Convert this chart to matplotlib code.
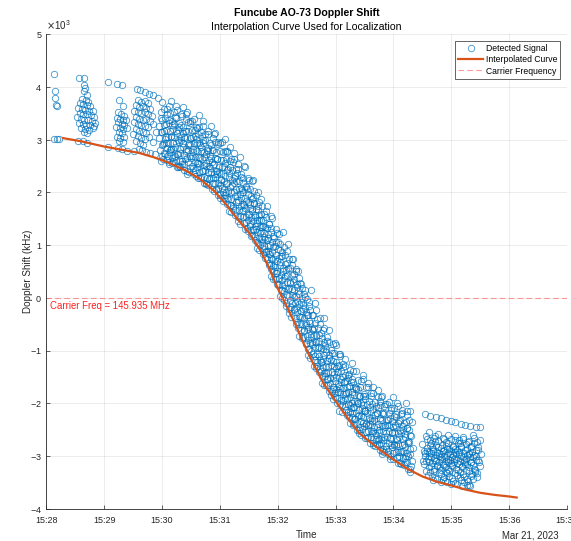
import numpy as np
import matplotlib
matplotlib.use("Agg")
import matplotlib.pyplot as plt
import matplotlib.dates as mdates
from matplotlib.ticker import ScalarFormatter, MultipleLocator
from datetime import datetime

plt.rcParams["font.family"] = ["Liberation Sans", "DejaVu Sans"]
plt.rcParams["axes.unicode_minus"] = False

# time is in minutes after 15:28, shift in kHz (plotted in Hz with x10^3)
start = datetime(2023, 3, 21, 15, 28)

# early passes, read point by point
early_t = [0.14, 0.15, 0.15, 0.16, 0.19, 0.14, 0.18, 0.22,
           0.57, 0.65, 0.66, 0.67, 0.66, 0.70, 0.62, 0.68, 0.72, 0.58, 0.64, 0.70,
           0.76, 0.55, 0.61, 0.67, 0.73, 0.80, 0.58, 0.64, 0.70, 0.77, 0.83, 0.53,
           0.60, 0.66, 0.72, 0.79, 0.56, 0.63, 0.69, 0.75, 0.82, 0.60, 0.67, 0.73,
           0.80, 0.65, 0.71, 0.84, 0.55, 0.63, 0.71,
           1.07, 1.23, 1.31, 1.25, 1.33, 1.24, 1.29, 1.34, 1.22, 1.27, 1.32, 1.37,
           1.24, 1.30, 1.35, 1.21, 1.27, 1.33, 1.39, 1.25, 1.31, 1.22, 1.28, 1.34,
           1.26, 1.32, 1.07, 1.24, 1.31, 1.40,
           1.56, 1.62, 1.70, 1.78, 1.85, 1.93, 1.58, 1.64, 1.70, 1.76, 1.55, 1.61,
           1.67, 1.73, 1.79, 1.52, 1.58, 1.64, 1.70, 1.76, 1.82, 1.55, 1.61, 1.67,
           1.73, 1.79, 1.52, 1.58, 1.64, 1.70, 1.76, 1.84, 1.55, 1.61, 1.67, 1.73,
           1.50, 1.58, 1.64, 1.70, 1.77, 1.55, 1.62, 1.68, 1.60, 1.66, 1.72, 1.80,
           1.88, 1.52, 1.85, 1.90]
early_f = [4.25, 3.93, 3.80, 3.66, 3.63, 3.02, 3.02, 3.02,
           4.18, 4.18, 4.04, 3.98, 3.92, 3.85, 3.78, 3.76, 3.72, 3.70, 3.68, 3.66,
           3.63, 3.60, 3.58, 3.57, 3.55, 3.55, 3.50, 3.49, 3.48, 3.46, 3.44, 3.44,
           3.40, 3.38, 3.37, 3.36, 3.31, 3.30, 3.28, 3.27, 3.26, 3.22, 3.20, 3.18,
           3.22, 3.14, 3.12, 3.31, 2.97, 2.97, 2.94,
           4.10, 4.05, 4.03, 3.75, 3.63, 3.52, 3.48, 3.45, 3.42, 3.40, 3.38, 3.37,
           3.33, 3.30, 3.28, 3.25, 3.22, 3.20, 3.22, 3.15, 3.12, 3.06, 3.04, 3.05,
           2.97, 2.95, 2.86, 2.84, 2.82, 2.79,
           3.96, 3.95, 3.91, 3.87, 3.85, 3.80, 3.75, 3.72, 3.74, 3.70, 3.65, 3.62,
           3.64, 3.60, 3.58, 3.55, 3.52, 3.50, 3.53, 3.48, 3.45, 3.43, 3.40, 3.38,
           3.40, 3.35, 3.33, 3.30, 3.28, 3.26, 3.24, 3.30, 3.20, 3.17, 3.15, 3.13,
           3.10, 3.07, 3.04, 3.02, 3.05, 2.97, 2.93, 2.90, 2.83, 2.80, 2.77, 2.74,
           2.72, 2.79, 2.95, 3.15]

# main pass, one column of detections per time step
band_t = [1.98, 2.06, 2.14, 2.22, 2.30, 2.38, 2.46, 2.54, 2.62, 2.70, 2.78,
          2.86, 2.94, 3.02, 3.10, 3.18, 3.26, 3.34, 3.42, 3.50, 3.58, 3.66,
          3.74, 3.82, 3.90, 3.98, 4.06, 4.14, 4.22, 4.30, 4.38, 4.46, 4.54,
          4.62, 4.70, 4.78, 4.86, 4.94, 5.02, 5.10, 5.18, 5.26, 5.34, 5.42,
          5.50, 5.58, 5.66, 5.74, 5.82, 5.90, 5.98, 6.06, 6.14, 6.22, 6.30]
band_f = [
    [2.59, 2.70, 2.80, 2.92, 3.03, 3.15, 3.26, 3.38, 3.52, 3.72],
    [2.61, 2.72, 2.84, 2.94, 3.06, 3.17, 3.29, 3.42, 3.59],
    [2.54, 2.65, 2.76, 2.82, 2.93, 3.05, 3.16, 3.28, 3.37, 3.51, 3.73],
    [2.48, 2.59, 2.70, 2.82, 2.93, 3.05, 3.16, 3.29, 3.43, 3.64],
    [2.49, 2.60, 2.72, 2.83, 2.95, 3.06, 3.18, 3.32, 3.49],
    [2.42, 2.53, 2.64, 2.71, 2.82, 2.94, 3.05, 3.17, 3.25, 3.40, 3.62],
    [2.35, 2.46, 2.57, 2.69, 2.81, 2.93, 3.04, 3.16, 3.31, 3.52],
    [2.35, 2.46, 2.58, 2.69, 2.82, 2.93, 3.05, 3.19, 3.36],
    [2.27, 2.38, 2.49, 2.56, 2.67, 2.79, 2.90, 3.02, 3.10, 3.25, 3.47],
    [2.18, 2.29, 2.40, 2.52, 2.64, 2.76, 2.87, 2.99, 3.14, 3.35],
    [2.16, 2.27, 2.39, 2.50, 2.62, 2.73, 2.85, 2.99, 3.16],
    [2.06, 2.17, 2.28, 2.35, 2.46, 2.58, 2.69, 2.81, 2.89, 3.04, 3.26],
    [1.95, 2.06, 2.17, 2.30, 2.41, 2.53, 2.64, 2.77, 2.92, 3.13],
    [1.90, 2.01, 2.14, 2.25, 2.38, 2.49, 2.62, 2.76, 2.93],
    [1.78, 1.89, 2.00, 2.07, 2.18, 2.31, 2.42, 2.55, 2.64, 2.79, 3.02],
    [1.64, 1.76, 1.87, 2.00, 2.11, 2.24, 2.36, 2.49, 2.64, 2.86],
    [1.58, 1.70, 1.82, 1.94, 2.07, 2.18, 2.31, 2.45, 2.63],
    [1.45, 1.56, 1.67, 1.74, 1.85, 1.97, 2.09, 2.21, 2.30, 2.45, 2.68],
    [1.31, 1.42, 1.53, 1.66, 1.77, 1.89, 2.00, 2.13, 2.28, 2.49],
    [1.26, 1.37, 1.48, 1.59, 1.71, 1.82, 1.94, 2.07, 2.23],
    [1.09, 1.20, 1.30, 1.36, 1.46, 1.58, 1.69, 1.80, 1.88, 2.02, 2.23],
    [0.94, 1.04, 1.14, 1.25, 1.35, 1.47, 1.57, 1.68, 1.81, 2.00],
    [0.83, 0.93, 1.05, 1.15, 1.26, 1.36, 1.47, 1.59, 1.75],
    [0.63, 0.73, 0.84, 0.89, 0.99, 1.11, 1.21, 1.32, 1.40, 1.54, 1.74],
    [0.41, 0.51, 0.62, 0.74, 0.84, 0.96, 1.06, 1.18, 1.32, 1.51],
    [0.25, 0.36, 0.48, 0.58, 0.70, 0.81, 0.93, 1.06, 1.23],
    [0.04, 0.15, 0.26, 0.33, 0.44, 0.56, 0.67, 0.79, 0.87, 1.02, 1.24],
    [-0.16, -0.05, 0.06, 0.19, 0.30, 0.42, 0.53, 0.66, 0.81, 1.02],
    [-0.29, -0.18, -0.05, 0.06, 0.19, 0.30, 0.43, 0.57, 0.74],
    [-0.50, -0.38, -0.27, -0.21, -0.09, 0.03, 0.15, 0.27, 0.36, 0.51, 0.74],
    [-0.72, -0.61, -0.49, -0.36, -0.25, -0.12, 0.00, 0.13, 0.28, 0.50],
    [-0.87, -0.75, -0.62, -0.51, -0.38, -0.26, -0.13, 0.01, 0.19],
    [-1.09, -0.97, -0.86, -0.80, -0.68, -0.56, -0.44, -0.32, -0.23, -0.08, 0.15],
    [-1.29, -1.18, -1.07, -0.94, -0.83, -0.70, -0.59, -0.47, -0.32, -0.10],
    [-1.41, -1.30, -1.18, -1.06, -0.94, -0.83, -0.70, -0.57, -0.39],
    [-1.61, -1.49, -1.38, -1.32, -1.21, -1.08, -0.97, -0.84, -0.76, -0.61, -0.38],
    [-1.77, -1.66, -1.55, -1.43, -1.32, -1.20, -1.09, -0.97, -0.82, -0.61],
    [-1.84, -1.74, -1.62, -1.52, -1.40, -1.29, -1.18, -1.05, -0.88],
    [-2.00, -1.89, -1.79, -1.73, -1.63, -1.51, -1.41, -1.29, -1.21, -1.07, -0.86],
    [-2.14, -2.04, -1.94, -1.82, -1.72, -1.60, -1.50, -1.39, -1.25, -1.06],
    [-2.23, -2.12, -2.01, -1.91, -1.80, -1.69, -1.58, -1.46, -1.30],
    [-2.37, -2.26, -2.16, -2.10, -2.00, -1.88, -1.78, -1.67, -1.59, -1.45, -1.24],
    [-2.51, -2.40, -2.30, -2.18, -2.07, -1.96, -1.85, -1.73, -1.59, -1.39],
    [-2.56, -2.45, -2.33, -2.22, -2.10, -1.99, -1.87, -1.74, -1.57],
    [-2.66, -2.55, -2.44, -2.38, -2.27, -2.15, -2.04, -1.92, -1.83, -1.69, -1.47],
    [-2.75, -2.64, -2.53, -2.41, -2.31, -2.19, -2.08, -1.96, -1.81, -1.61],
    [-2.79, -2.68, -2.56, -2.46, -2.34, -2.23, -2.11, -1.98, -1.81],
    [-2.88, -2.77, -2.67, -2.61, -2.51, -2.39, -2.29, -2.18, -2.10, -1.96, -1.75],
    [-2.96, -2.86, -2.75, -2.64, -2.53, -2.42, -2.32, -2.20, -2.06, -1.87],
    [-2.97, -2.87, -2.75, -2.65, -2.53, -2.42, -2.31, -2.18, -2.01],
    [-3.06, -2.95, -2.84, -2.78, -2.68, -2.56, -2.45, -2.33, -2.25, -2.10, -1.89],
    [-3.14, -3.03, -2.92, -2.80, -2.69, -2.57, -2.46, -2.34, -2.20, -1.99],
    [-3.15, -3.04, -2.92, -2.80, -2.68, -2.57, -2.44, -2.31, -2.13],
    [-3.24, -3.12, -3.01, -2.95, -2.83, -2.71, -2.59, -2.47, -2.38, -2.23, -2.00],
    [-3.31, -3.20, -3.09, -2.97, -2.85, -2.73, -2.62, -2.50, -2.35, -2.14],
]

# main pass, detections between those columns
band2_t = [2.02, 2.10, 2.18, 2.26, 2.34, 2.42, 2.50, 2.58, 2.66, 2.74, 2.82,
           2.90, 2.98, 3.06, 3.14, 3.22, 3.30, 3.38, 3.46, 3.54, 3.62, 3.70,
           3.78, 3.86, 3.94, 4.02, 4.10, 4.18, 4.26, 4.34, 4.42, 4.50, 4.58,
           4.66, 4.74, 4.82, 4.90, 4.98, 5.06, 5.14, 5.22, 5.30, 5.38, 5.46,
           5.54, 5.62, 5.70, 5.78, 5.86, 5.94, 6.02, 6.10, 6.18, 6.26]
band2_f = [
    [2.64, 2.75, 2.89, 3.01, 3.14, 3.27, 3.41, 3.58],
    [2.58, 2.70, 2.81, 2.94, 3.06, 3.19, 3.32, 3.48, 3.64],
    [2.56, 2.68, 2.82, 2.94, 3.07, 3.21, 3.35, 3.52],
    [2.50, 2.62, 2.73, 2.86, 2.99, 3.12, 3.25, 3.41, 3.57],
    [2.48, 2.60, 2.74, 2.86, 2.99, 3.13, 3.27, 3.45],
    [2.41, 2.53, 2.65, 2.78, 2.90, 3.04, 3.17, 3.33, 3.49],
    [2.39, 2.51, 2.65, 2.77, 2.90, 3.04, 3.19, 3.36],
    [2.31, 2.43, 2.55, 2.68, 2.80, 2.94, 3.07, 3.23, 3.39],
    [2.28, 2.40, 2.53, 2.66, 2.79, 2.93, 3.07, 3.24],
    [2.18, 2.30, 2.42, 2.55, 2.67, 2.81, 2.94, 3.10, 3.26],
    [2.14, 2.26, 2.39, 2.51, 2.65, 2.78, 2.93, 3.10],
    [2.03, 2.16, 2.27, 2.40, 2.52, 2.66, 2.80, 2.95, 3.11],
    [1.96, 2.09, 2.23, 2.35, 2.49, 2.63, 2.78, 2.95],
    [1.84, 1.96, 2.08, 2.22, 2.34, 2.48, 2.62, 2.79, 2.95],
    [1.76, 1.89, 2.03, 2.15, 2.29, 2.44, 2.59, 2.77],
    [1.62, 1.75, 1.87, 2.01, 2.14, 2.28, 2.42, 2.58, 2.75],
    [1.54, 1.67, 1.81, 1.93, 2.07, 2.21, 2.36, 2.54],
    [1.40, 1.53, 1.64, 1.78, 1.90, 2.04, 2.18, 2.34, 2.50],
    [1.32, 1.44, 1.58, 1.70, 1.83, 1.97, 2.11, 2.28],
    [1.18, 1.29, 1.40, 1.53, 1.65, 1.78, 1.90, 2.06, 2.21],
    [1.06, 1.18, 1.30, 1.42, 1.54, 1.67, 1.80, 1.96],
    [0.90, 1.01, 1.11, 1.23, 1.34, 1.47, 1.59, 1.74, 1.88],
    [0.76, 0.87, 0.99, 1.10, 1.23, 1.35, 1.48, 1.64],
    [0.54, 0.66, 0.76, 0.89, 1.00, 1.13, 1.25, 1.40, 1.55],
    [0.36, 0.48, 0.61, 0.73, 0.86, 0.99, 1.13, 1.30],
    [0.15, 0.27, 0.38, 0.51, 0.63, 0.76, 0.90, 1.05, 1.21],
    [-0.01, 0.12, 0.25, 0.37, 0.51, 0.64, 0.79, 0.96],
    [-0.21, -0.09, 0.03, 0.16, 0.29, 0.43, 0.56, 0.73, 0.89],
    [-0.37, -0.24, -0.10, 0.02, 0.16, 0.30, 0.45, 0.63],
    [-0.58, -0.46, -0.34, -0.20, -0.07, 0.07, 0.21, 0.37, 0.54],
    [-0.76, -0.63, -0.49, -0.36, -0.22, -0.08, 0.08, 0.26],
    [-0.98, -0.85, -0.73, -0.59, -0.47, -0.33, -0.19, -0.02, 0.15],
    [-1.14, -1.01, -0.87, -0.75, -0.61, -0.47, -0.32, -0.15],
    [-1.34, -1.21, -1.10, -0.96, -0.84, -0.70, -0.57, -0.40, -0.24],
    [-1.48, -1.36, -1.22, -1.10, -0.96, -0.82, -0.67, -0.50],
    [-1.66, -1.54, -1.43, -1.29, -1.17, -1.03, -0.90, -0.74, -0.58],
    [-1.77, -1.65, -1.52, -1.40, -1.27, -1.14, -0.99, -0.83],
    [-1.92, -1.80, -1.70, -1.57, -1.45, -1.33, -1.20, -1.05, -0.90],
    [-2.02, -1.91, -1.78, -1.67, -1.54, -1.41, -1.28, -1.11],
    [-2.17, -2.06, -1.96, -1.83, -1.72, -1.59, -1.47, -1.32, -1.17],
    [-2.27, -2.16, -2.03, -1.92, -1.79, -1.67, -1.53, -1.37],
    [-2.42, -2.30, -2.19, -2.07, -1.95, -1.82, -1.69, -1.54, -1.39],
    [-2.50, -2.38, -2.25, -2.13, -2.00, -1.87, -1.72, -1.56],
    [-2.61, -2.49, -2.38, -2.25, -2.13, -1.99, -1.86, -1.70, -1.54],
    [-2.66, -2.53, -2.40, -2.28, -2.15, -2.02, -1.87, -1.70],
    [-2.76, -2.64, -2.53, -2.40, -2.28, -2.15, -2.02, -1.86, -1.70],
    [-2.81, -2.69, -2.56, -2.45, -2.32, -2.19, -2.05, -1.88],
    [-2.90, -2.78, -2.68, -2.55, -2.44, -2.31, -2.18, -2.03, -1.88],
    [-2.93, -2.82, -2.69, -2.57, -2.45, -2.32, -2.18, -2.02],
    [-3.01, -2.90, -2.79, -2.66, -2.54, -2.41, -2.28, -2.13, -1.98],
    [-3.05, -2.93, -2.80, -2.68, -2.55, -2.41, -2.27, -2.10],
    [-3.13, -3.01, -2.90, -2.77, -2.64, -2.51, -2.37, -2.21, -2.06],
    [-3.17, -3.04, -2.91, -2.78, -2.64, -2.51, -2.36, -2.18],
    [-3.25, -3.12, -3.01, -2.87, -2.75, -2.61, -2.48, -2.31, -2.15],
]

# last pass
late_t = [6.52, 6.56, 6.60, 6.64, 6.68, 6.72, 6.76, 6.80, 6.84, 6.88, 6.92,
          6.96, 7.00, 7.04, 7.08, 7.12, 7.16, 7.20, 7.24, 7.28, 7.32, 7.36,
          7.40, 7.44, 7.48]
late_f = [
    [-2.78, -2.90, -3.00, -3.10],
    [-2.62, -2.85, -2.95, -3.05, -3.16, -3.28],
    [-2.55, -2.68, -2.80, -2.90, -3.00, -3.10, -3.22, -3.36],
    [-2.70, -2.83, -2.93, -3.02, -3.12, -3.20, -3.31],
    [-2.62, -2.75, -2.86, -2.95, -3.04, -3.13, -3.24, -3.38, -3.45],
    [-2.66, -2.80, -2.90, -2.99, -3.08, -3.17, -3.29, -3.42],
    [-2.58, -2.72, -2.84, -2.92, -3.01, -3.10, -3.19, -3.30, -3.44],
    [-2.72, -2.85, -2.94, -3.03, -3.12, -3.22, -3.35],
    [-2.66, -2.79, -2.88, -2.97, -3.06, -3.15, -3.26, -3.40, -3.50],
    [-2.68, -2.82, -2.91, -3.00, -3.09, -3.18, -3.30, -3.44],
    [-2.60, -2.74, -2.86, -2.94, -3.03, -3.12, -3.21, -3.33, -3.47],
    [-2.75, -2.87, -2.96, -3.05, -3.14, -3.24, -3.38, -3.50],
    [-2.68, -2.81, -2.90, -2.99, -3.08, -3.17, -3.28, -3.42, -3.53],
    [-2.70, -2.84, -2.93, -3.02, -3.11, -3.20, -3.32, -3.47],
    [-2.62, -2.76, -2.87, -2.96, -3.05, -3.14, -3.24, -3.37, -3.52],
    [-2.76, -2.88, -2.97, -3.06, -3.15, -3.26, -3.40, -3.54],
    [-2.70, -2.82, -2.92, -3.01, -3.10, -3.19, -3.30, -3.45, -3.57],
    [-2.68, -2.84, -2.94, -3.03, -3.12, -3.22, -3.35, -3.50],
    [-2.64, -2.78, -2.89, -2.98, -3.07, -3.16, -3.26, -3.40, -3.55],
    [-2.74, -2.87, -2.97, -3.06, -3.16, -3.28, -3.43, -3.56],
    [-2.72, -2.84, -2.94, -3.03, -3.12, -3.22, -3.34, -3.48, -3.58],
    [-2.66, -2.82, -2.93, -3.02, -3.12, -3.24, -3.38],
    [-2.60, -2.76, -2.88, -2.98, -3.08, -3.18, -3.30, -3.44],
    [-2.74, -2.88, -3.00, -3.12, -3.26, -3.40],
    [-2.70, -2.84, -2.96, -3.08, -3.20, -3.32],
]
late_top_t = [6.55, 6.64, 6.73, 6.82, 6.90, 6.99, 7.07, 7.16, 7.24, 7.33, 7.42, 7.49]
late_top_f = [-2.21, -2.24, -2.26, -2.29, -2.31, -2.33, -2.36, -2.39, -2.41, -2.44, -2.45, -2.46]

# detections in a column are not exactly simultaneous: small time offsets (min)
# by position in the column
col_dt = [0.000, 0.021, -0.013, 0.031, -0.024, 0.008, -0.033, 0.016, -0.006,
          0.027, -0.018]

# interpolated curve
curve_t = [0.29, 0.6, 1.0, 1.3, 1.6, 1.85, 2.1, 2.4, 2.65, 2.9, 3.1, 3.3, 3.5,
           3.7, 3.85, 4.0, 4.15, 4.3, 4.45, 4.6, 4.8, 5.0, 5.2, 5.4, 5.6, 5.8,
           6.0, 6.25, 6.5, 6.75, 7.0, 7.25, 7.5, 7.75, 8.0, 8.13]
curve_f = [3.03, 2.97, 2.87, 2.81, 2.75, 2.67, 2.57, 2.42, 2.26, 2.03, 1.78,
           1.50, 1.24, 0.90, 0.57, 0.18, -0.15, -0.49, -0.87, -1.22, -1.64,
           -1.96, -2.27, -2.56, -2.74, -2.91, -3.07, -3.25, -3.39, -3.49,
           -3.56, -3.64, -3.70, -3.74, -3.77, -3.79]

carrier_mhz = 145.935
tick_minutes = [0, 1, 2, 3, 4, 5, 6, 7, 8, 9]


def to_num(minutes):
    return mdates.date2num(start) + np.asarray(minutes, dtype=float) / 1440.0


def main():
    sig_t = list(early_t)
    sig_f = list(early_f)
    cols = list(zip(band_t + band2_t + late_t, band_f + band2_f + late_f))
    for j, (t, col) in enumerate(cols):
        for i, f in enumerate(col):
            sig_t.append(t + col_dt[(i + j) % len(col_dt)])
            sig_f.append(f)
    sig_t += late_top_t
    sig_f += late_top_f

    fig = plt.figure(figsize=(5.71, 5.41), dpi=100)
    ax = fig.add_axes([46.3 / 571, 1 - 508.6 / 541, 520.7 / 571, 474.3 / 541])

    ax.plot(to_num(sig_t), np.array(sig_f) * 1000, "o", ls="none", ms=4.6,
            mfc="none", mec="#0072BD", mew=0.6, alpha=0.75, label="Detected Signal")
    ax.plot(to_num(curve_t), np.array(curve_f) * 1000, color="#D95319", lw=1.6,
            label="Interpolated Curve")
    ax.axhline(0, color="#FF8080", lw=0.8, ls=(0, (5, 3)), alpha=0.8,
               label="Carrier Frequency")
    ax.text(to_num(0.06), -60, f"Carrier Freq = {carrier_mhz:.3f} MHz",
            color="#FF2020", fontsize=6.9, va="top", ha="left")

    ax.set_xlim(to_num(0), to_num(9))
    ax.set_ylim(-4000, 5000)
    ax.set_xticks(to_num(tick_minutes))
    ax.xaxis.set_major_formatter(mdates.DateFormatter("%H:%M"))
    ax.yaxis.set_major_locator(MultipleLocator(1000))
    fmt = ScalarFormatter(useMathText=True)
    fmt.set_powerlimits((3, 3))
    ax.yaxis.set_major_formatter(fmt)
    ax.yaxis.get_offset_text().set_fontsize(7)
    ax.yaxis.get_offset_text().set_color("#4d4d4d")

    ax.grid(True, color="#262626", alpha=0.1, lw=0.6)
    ax.set_axisbelow(True)
    for side in ("top", "right"):
        ax.spines[side].set_visible(False)
    for side in ("left", "bottom"):
        ax.spines[side].set_color("#262626")
        ax.spines[side].set_linewidth(0.6)
    ax.tick_params(direction="in", length=3, width=0.5, colors="#262626",
                   labelsize=6.5, pad=3)
    ax.tick_params(axis="x", pad=5)

    leg = ax.legend(loc="upper right", fontsize=6.2, numpoints=1,
                    handlelength=2.9, fancybox=False, framealpha=1,
                    borderaxespad=0.8, labelspacing=0.25, handletextpad=0.3,
                    borderpad=0.35)
    leg.get_frame().set_edgecolor("#262626")
    leg.get_frame().set_linewidth(0.5)

    fig.text(306.5 / 571, 1 - 13 / 541, "Funcube AO-73 Doppler Shift",
             ha="center", va="center", fontsize=7.6, fontweight="bold")
    fig.text(306.5 / 571, 1 - 27 / 541, "Interpolation Curve Used for Localization",
             ha="center", va="center", fontsize=7.6)
    fig.text(28 / 571, 1 - 271.5 / 541, "Doppler Shift (kHz)", rotation=90,
             ha="center", va="center", fontsize=7.1, color="#262626")
    fig.text(306.5 / 571, 1 - 535 / 541, "Time", ha="center", va="center",
             fontsize=7.1, color="#262626")
    fig.text(559 / 571, 1 - 535 / 541, "Mar 21, 2023", ha="right", va="center",
             fontsize=6.9, color="#262626")

    fig.savefig("out.png", dpi=100)


if __name__ == "__main__":
    main()
